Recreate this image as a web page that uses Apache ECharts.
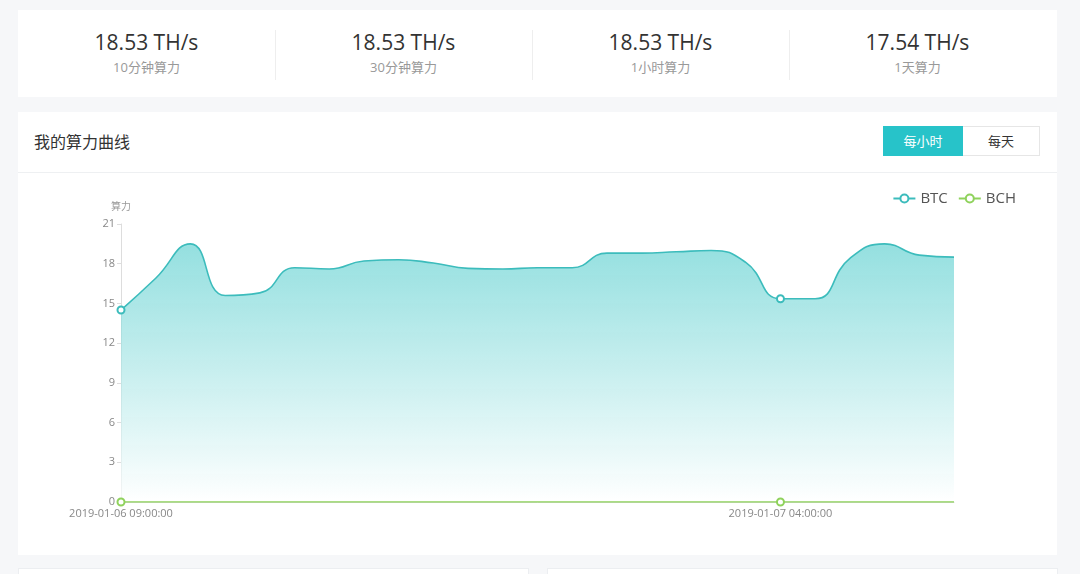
<!DOCTYPE html>
<html><head><meta charset="utf-8">
<script src="https://cdn.jsdelivr.net/npm/echarts@6/dist/echarts.min.js"></script>
<style>
html,body{margin:0;padding:0;width:1080px;height:574px;overflow:hidden;background:#f6f7f9;font-family:"Open Sans","Noto Sans CJK SC",sans-serif;}
.card{position:absolute;background:#fff;}
.col{position:absolute;top:0;width:257px;height:87px;text-align:center;}
.val{position:absolute;left:0;right:0;top:19px;font-size:21px;color:#333;line-height:26px;}
.lab{position:absolute;left:0;right:0;top:48px;font-size:13px;color:#999;line-height:18px;}
.sep{position:absolute;top:20px;width:1px;height:50px;background:#eee;}
</style></head>
<body>
<div class="card" style="left:18px;top:10px;width:1039px;height:87px;" id="stats"></div>
<div class="card" style="left:18px;top:112px;width:1039px;height:443px;">
  <div style="position:absolute;left:16px;top:18px;font-size:16px;color:#333;line-height:24px;">我的算力曲线</div>
  <div style="position:absolute;left:865px;top:14px;width:80px;height:30px;background:#27c3c9;color:#fff;font-size:13px;line-height:30px;text-align:center;">每小时</div>
  <div style="position:absolute;left:945px;top:14px;width:76px;height:28px;border:1px solid #e6e6e6;border-left:none;color:#333;font-size:13px;line-height:28px;text-align:center;">每天</div>
  <div style="position:absolute;left:0;top:60px;width:1039px;height:1px;background:#eef0f2;"></div>
  <div id="chart" style="position:absolute;left:0;top:61px;width:1039px;height:382px;"></div>
</div>
<div class="card" style="left:18px;top:568px;width:509px;height:20px;border:1px solid #eceef1;"></div>
<div class="card" style="left:547px;top:568px;width:509px;height:20px;border:1px solid #eceef1;"></div>
<script>
var statValues = ["18.53 TH/s","18.53 TH/s","18.53 TH/s","17.54 TH/s"];
var statLabels = ["10分钟算力","30分钟算力","1小时算力","1天算力"];
var categories = [
 "2019-01-06 09:00:00","2019-01-06 10:00:00","2019-01-06 11:00:00","2019-01-06 12:00:00","2019-01-06 13:00:00",
 "2019-01-06 14:00:00","2019-01-06 15:00:00","2019-01-06 16:00:00","2019-01-06 17:00:00","2019-01-06 18:00:00",
 "2019-01-06 19:00:00","2019-01-06 20:00:00","2019-01-06 21:00:00","2019-01-06 22:00:00","2019-01-06 23:00:00",
 "2019-01-07 00:00:00","2019-01-07 01:00:00","2019-01-07 02:00:00","2019-01-07 03:00:00","2019-01-07 04:00:00",
 "2019-01-07 05:00:00","2019-01-07 06:00:00","2019-01-07 07:00:00","2019-01-07 08:00:00","2019-01-07 09:00:00"];
var btc = [14.5,16.9,19.5,15.6,15.8,17.7,17.6,18.2,18.3,18.05,17.65,17.6,17.7,17.7,18.8,18.8,18.9,19.0,18.1,15.35,15.35,18.4,19.5,18.65,18.5];
var bch = [0,0,0,0,0,0,0,0,0,0,0,0,0,0,0,0,0,0,0,0,0,0,0,0,0];
var yTicks = {min:0,max:21,interval:3};

var stats = document.getElementById('stats');
for (var i=0;i<statValues.length;i++){
  var c=document.createElement('div');c.className='col';c.style.left=(i*257)+'px';
  c.innerHTML='<div class="val">'+statValues[i]+'</div><div class="lab">'+statLabels[i]+'</div>';
  stats.appendChild(c);
  if(i>0){var s=document.createElement('div');s.className='sep';s.style.left=(i*257)+'px';stats.appendChild(s);}
}

var chart = echarts.init(document.getElementById('chart'));
chart.setOption({
  animation:false,
  textStyle:{fontFamily:'"Open Sans","Noto Sans CJK SC",sans-serif'},
  legend:{right:36,top:13,itemWidth:22,itemHeight:10,itemGap:10,textStyle:{fontSize:15,color:'#555'},
    data:['BTC','BCH']},
  grid:{left:103,right:103,top:51,bottom:53},
  xAxis:{type:'category',boundaryGap:false,data:categories,
    axisLine:{lineStyle:{color:'#ddd'}},axisTick:{show:false},
    axisLabel:{interval:18,color:'#888',fontSize:11,margin:6}},
  yAxis:{type:'value',min:yTicks.min,max:yTicks.max,interval:yTicks.interval,name:'算力',
    nameTextStyle:{color:'#999',fontSize:10,padding:[0,0,0,0]},nameGap:12,
    axisLine:{show:true,lineStyle:{color:'#ddd'}},axisTick:{show:true,length:4,lineStyle:{color:'#ddd'}},
    axisLabel:{color:'#888',fontSize:11,margin:6},splitLine:{show:false}},
  series:[
    {name:'BTC',type:'line',smooth:true,data:btc,symbol:'emptyCircle',symbolSize:7,showAllSymbol:false,
      lineStyle:{color:'#3cbcbc',width:1.6},itemStyle:{color:'#3cbcbc'},
      areaStyle:{color:new echarts.graphic.LinearGradient(0,0,0,1,[{offset:0,color:'rgba(95,208,208,0.95)'},{offset:1,color:'rgba(255,255,255,1)'}])}},
    {name:'BCH',type:'line',smooth:true,data:bch,symbol:'emptyCircle',symbolSize:7,showAllSymbol:false,
      lineStyle:{color:'#8fd25c',width:1.5},itemStyle:{color:'#8fd25c'}}
  ]
});
</script>
</body></html>
